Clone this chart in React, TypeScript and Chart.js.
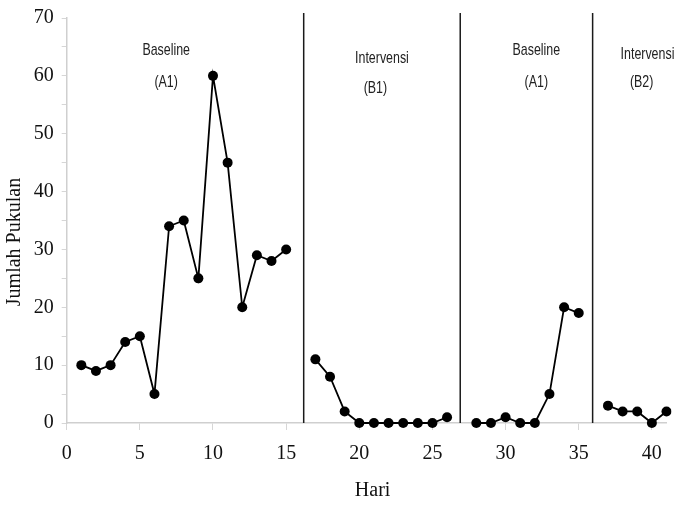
import React, { useEffect, useRef } from 'react';
import { Chart, registerables } from 'chart.js';

Chart.register(...registerables);

// ---- Data ----
const phaseA1Days = [1, 2, 3, 4, 5, 6, 7, 8, 9, 10, 11, 12, 13, 14, 15];
const phaseA1Values = [10, 9, 10, 14, 15, 5, 34, 35, 25, 60, 45, 20, 29, 28, 30];

const phaseB1Days = [17, 18, 19, 20, 21, 22, 23, 24, 25, 26];
const phaseB1Values = [11, 8, 2, 0, 0, 0, 0, 0, 0, 1];

const phaseA2Days = [28, 29, 30, 31, 32, 33, 34, 35];
const phaseA2Values = [0, 0, 1, 0, 0, 5, 20, 19];

const phaseB2Days = [37, 38, 39, 40, 41, 42];
const phaseB2Values = [3, 2, 2, 0, 2, 0];

const phaseBoundaries = [16.2, 26.9, 35.95];
const phaseNames = ['Baseline', 'Intervensi', 'Baseline', 'Intervensi'];
const phaseCodes = ['(A1)', '(B1)', '(A1)', '(B2)'];

const xTickLabels = ['0', '5', '10', '15', '20', '25', '30', '35', '40'];
const yTickLabels = ['0', '10', '20', '30', '40', '50', '60', '70'];

const xAxisTitle = 'Hari';
const yAxisTitle = 'Jumlah Pukulan';

// ---- Layout of annotations (data units) ----
const labelLayout = [
  { nameX: 6.8, nameY: 64.4, codeX: 6.8, codeY: 58.9 },
  { nameX: 21.55, nameY: 63.0, codeX: 21.1, codeY: 57.9 },
  { nameX: 32.1, nameY: 64.4, codeX: 32.1, codeY: 58.9 },
  { nameX: 39.7, nameY: 63.8, codeX: 39.3, codeY: 58.9 },
];

const toPoints = (days: number[], vals: number[]) => days.map((d, i) => ({ x: d, y: vals[i] }));

const annotationPlugin = {
  id: 'phaseAnnotations',
  beforeDatasetsDraw(chart: any) {
    const { ctx, chartArea, scales } = chart;
    const x = scales.x;
    const y = scales.y;
    ctx.save();
    ctx.strokeStyle = '#1a1a1a';
    ctx.lineWidth = 1.5;
    phaseBoundaries.forEach((b) => {
      const px = x.getPixelForValue(b);
      ctx.beginPath();
      ctx.moveTo(px, chartArea.top - 5);
      ctx.lineTo(px, chartArea.bottom);
      ctx.stroke();
    });

    ctx.fillStyle = '#222';
    ctx.textAlign = 'center';
    ctx.textBaseline = 'middle';
    ctx.font = '17px "Liberation Sans", Arial, sans-serif';
    const drawCond = (text: string, px: number, py: number) => {
      ctx.save();
      ctx.translate(px, py);
      ctx.scale(0.73, 1);
      ctx.fillText(text, 0, 0);
      ctx.restore();
    };
    labelLayout.forEach((l, i) => {
      drawCond(phaseNames[i], x.getPixelForValue(l.nameX), y.getPixelForValue(l.nameY));
      drawCond(phaseCodes[i], x.getPixelForValue(l.codeX), y.getPixelForValue(l.codeY));
    });

    ctx.fillStyle = '#111';
    ctx.font = '20px "Liberation Serif", "DejaVu Serif", serif';
    ctx.fillText(xAxisTitle, (chartArea.left + chartArea.right) / 2 + 6, 491);
    ctx.save();
    ctx.translate(15, 242);
    ctx.rotate(-Math.PI / 2);
    ctx.fillText(yAxisTitle, 0, 0);
    ctx.restore();
    ctx.restore();
  },
};

export default function App() {
  const canvasRef = useRef<HTMLCanvasElement | null>(null);

  useEffect(() => {
    if (!canvasRef.current) return;
    const datasetStyle = {
      borderColor: '#000',
      borderWidth: 1.8,
      pointRadius: 5,
      pointHoverRadius: 5,
      pointBackgroundColor: '#000',
      pointBorderColor: '#000',
      pointBorderWidth: 0,
      tension: 0,
      fill: false,
      clip: { left: 5, top: 5, right: 5, bottom: 6 },
    };
    const chart = new Chart(canvasRef.current, {
      type: 'line',
      data: {
        datasets: [
          { label: 'A1', data: toPoints(phaseA1Days, phaseA1Values), ...datasetStyle },
          { label: 'B1', data: toPoints(phaseB1Days, phaseB1Values), ...datasetStyle },
          { label: 'A2', data: toPoints(phaseA2Days, phaseA2Values), ...datasetStyle },
          { label: 'B2', data: toPoints(phaseB2Days, phaseB2Values), ...datasetStyle },
        ],
      } as any,
      options: {
        responsive: false,
        animation: false,
        devicePixelRatio: 1,
        layout: { padding: { top: 11.5, right: 13.5, bottom: 0, left: 0 } },
        plugins: {
          legend: { display: false },
          tooltip: { enabled: false },
          title: { display: false },
        },
        scales: {
          x: {
            type: 'linear',
            min: 0,
            max: 41,
            afterBuildTicks: (scale: any) => {
              scale.ticks = xTickLabels.map((t) => ({ value: Number(t) }));
            },
            afterFit: (scale: any) => {
              scale.height = 85;
            },
            ticks: {
              stepSize: 5,
              autoSkip: false,
              maxRotation: 0,
              padding: 14,
              color: '#111',
              font: { family: '"Liberation Serif", "DejaVu Serif", serif', size: 20, lineHeight: 1 },
              callback: (v: any) => String(v),
            },
            grid: {
              display: true,
              drawOnChartArea: false,
              drawTicks: true,
              tickLength: 7,
              color: '#d6d6d6',
            },
            border: { display: true, color: '#cfcfcf', width: 1.5 },
          },
          y: {
            type: 'linear',
            min: 0,
            max: 70,
            afterFit: (scale: any) => {
              scale.width = 66.7;
            },
            ticks: {
              stepSize: 5,
              autoSkip: false,
              padding: 8,
              color: '#111',
              font: { family: '"Liberation Serif", "DejaVu Serif", serif', size: 20, lineHeight: 1 },
              callback: (v: any) => (yTickLabels.includes(String(v)) ? String(v) : ''),
            },
            grid: {
              display: true,
              drawOnChartArea: false,
              drawTicks: true,
              tickLength: 5,
              color: '#d6d6d6',
            },
            border: { display: true, color: '#cfcfcf', width: 1.5 },
          },
        },
      } as any,
      plugins: [annotationPlugin],
    });
    return () => chart.destroy();
  }, []);

  return (
    <div style={{ position: 'fixed', left: 0, top: 0, width: 680, height: 508, background: '#fff' }}>
      <canvas ref={canvasRef} width={680} height={508} />
    </div>
  );
}
